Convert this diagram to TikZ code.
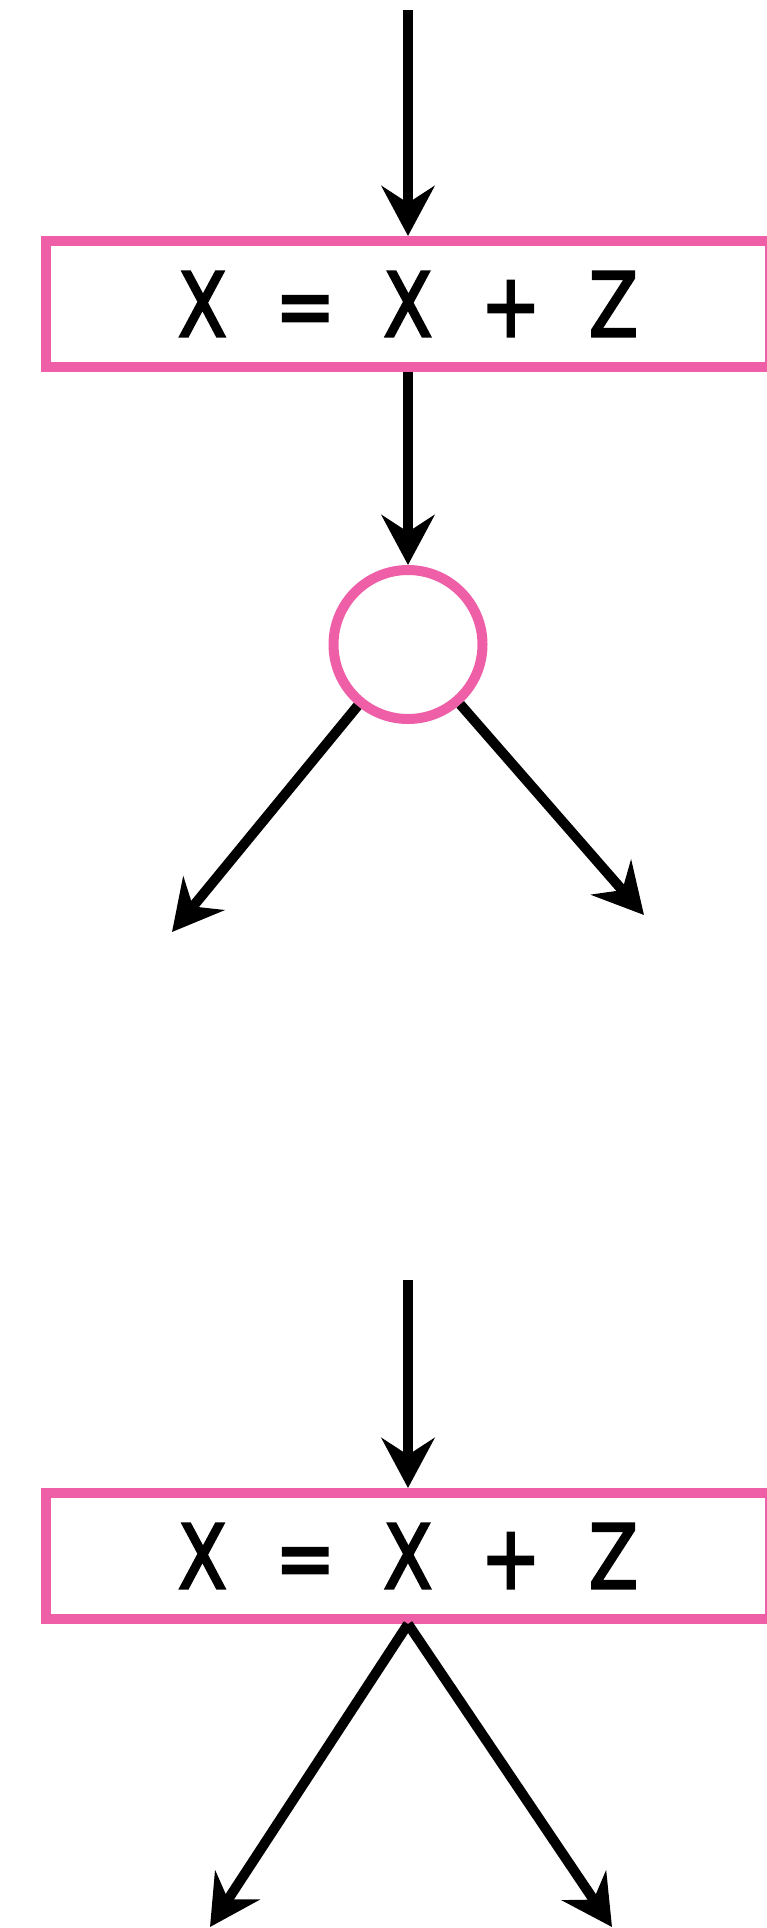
\documentclass[tikz,border=0pt]{standalone}
\usepackage{fontspec}
\usepackage{tikz}
\usetikzlibrary{arrows.meta}
\newfontfamily\eqfont[FakeStretch=0.8,FakeBold=2.6,WordSpace=2.15]{DejaVu Sans}
\definecolor{flowpink}{RGB}{239, 95, 167}

\tikzset{
  flowline/.style={line width=0.2cm,
    -{Stealth[length=1.0cm, width=1.06cm, inset=0.34cm]}},
  stmtbox/.style={draw=flowpink, line width=0.2cm, inner sep=0pt,
    minimum width=14.48cm, minimum height=2.52cm,
    font=\eqfont\fontsize{50.6}{60}\selectfont},
  joincirc/.style={circle, draw=flowpink, line width=0.2cm, inner sep=0pt,
    minimum size=2.98cm}
}

\begin{document}
\begin{tikzpicture}
    \useasboundingbox (0,0) rectangle (15.34,-38.56);

    %% first statement, then the split
    \coordinate (in1) at (8.16,-0.2);
    \node[stmtbox] (stmt1) at (8.16,-6.08) {X = X + Z};
    \node[joincirc] (split) at (8.16,-12.89) {};
    \coordinate (outL1) at (3.44,-18.64);
    \coordinate (outR1) at (12.88,-18.30);

    \draw[flowline] (in1) -- (stmt1);
    \draw[flowline] (stmt1) -- (split);
    \draw[flowline] (split) -- (outL1);
    \draw[flowline] (split) -- (outR1);

    %% second statement, branching straight from the box
    \coordinate (in2) at (8.16,-25.6);
    \node[stmtbox] (stmt2) at (8.16,-31.12) {X = X + Z};
    \coordinate (outL2) at (4.20,-38.54);
    \coordinate (outR2) at (12.24,-38.54);

    \draw[flowline] (in2) -- (stmt2);
    \draw[flowline] (stmt2.south) -- (outL2);
    \draw[flowline] (stmt2.south) -- (outR2);
  \end{tikzpicture}
\end{document}
